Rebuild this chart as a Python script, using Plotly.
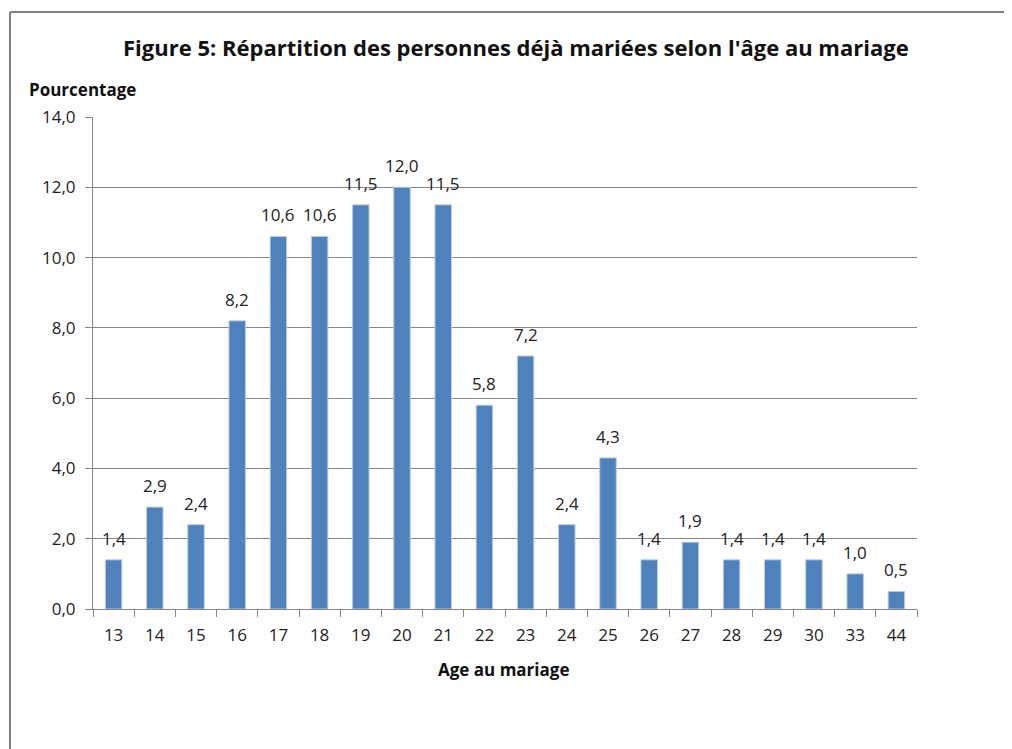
import plotly.graph_objects as go

ages = ["13", "14", "15", "16", "17", "18", "19", "20", "21", "22", "23", "24",
        "25", "26", "27", "28", "29", "30", "33", "44"]
pourcentages = [1.4, 2.9, 2.4, 8.2, 10.6, 10.6, 11.5, 12.0, 11.5, 5.8, 7.2, 2.4,
                4.3, 1.4, 1.9, 1.4, 1.4, 1.4, 1.0, 0.5]
y_ticks = [0, 2, 4, 6, 8, 10, 12, 14]

FONT = "Open Sans"
# page body has an 8px margin; compensate so that pixels match the target
OFF = 8
W, H = 1012, 749
L, R, T, B = 93, 917, 117, 609  # target plot area (page pixels)
l, t = L - OFF, T - OFF
r = W - (R - OFF)
b = H - (B - OFF)
pw, ph = W - l - r, H - t - b
def px(x): return (x - OFF - l) / pw
def py(y): return (H - b - (y - OFF)) / ph

fig = go.Figure(go.Bar(
    x=ages, y=pourcentages,
    marker=dict(color="#4F81BD", line=dict(color="#B9CDE5", width=1)),
    width=0.4,
    hoverinfo="x+y",
))

# data labels: on a category axis, annotation x is the category index
annotations = [
    dict(x=i, y=v, xref="x", yref="y", text=f"{v:.1f}".replace(".", ","),
         showarrow=False, yanchor="bottom", yshift=8,
         font=dict(family=FONT, size=17, color="#222"))
    for i, v in enumerate(pourcentages)
]
annotations += [
    dict(text="<b>Figure 5: Répartition des personnes déjà mariées selon l'âge au mariage</b>",
         x=px(516), y=py(47), xref="paper", yref="paper", showarrow=False,
         xanchor="center", yanchor="middle",
         font=dict(family=FONT, size=22, color="#111")),
    dict(text="<b>Pourcentage</b>", x=px(27), y=py(90), xref="paper", yref="paper",
         showarrow=False, xanchor="left", yanchor="middle",
         font=dict(family=FONT, size=17, color="#111")),
    dict(text="<b>Age au mariage</b>", x=px(503), y=py(669), xref="paper", yref="paper",
         showarrow=False, xanchor="center", yanchor="middle",
         font=dict(family=FONT, size=17, color="#111")),
]

fig.update_layout(
    width=W, height=H,
    margin=dict(l=l, r=r, t=t, b=b),
    paper_bgcolor="white", plot_bgcolor="white",
    separators=", ",
    showlegend=False,
    font=dict(family=FONT, size=17, color="#222"),
    xaxis=dict(
        type="category", tickson="boundaries", ticks="outside", ticklen=7,
        tickcolor="#868686", showline=True, linecolor="#868686", linewidth=1,
        showgrid=False, tickfont=dict(family=FONT, size=17, color="#222"),
        ticklabelstandoff=11, tickangle=0, range=[-0.5, len(ages) - 0.5],
    ),
    yaxis=dict(
        range=[0, 14], tickvals=y_ticks, tickformat=".1f", ticks="outside",
        ticklen=7, tickcolor="#868686", showline=True, linecolor="#868686",
        gridcolor="#868686", gridwidth=1,
        tickfont=dict(family=FONT, size=17, color="#222"),
        zeroline=False, ticklabelstandoff=6,
    ),
    annotations=annotations,
    shapes=[
        dict(type="line", xref="paper", yref="paper", x0=px(10), x1=px(1020), y0=py(12), y1=py(12),
             line=dict(color="#808080", width=2)),
        dict(type="line", xref="paper", yref="paper", x0=px(10), x1=px(10), y0=py(12), y1=py(760),
             line=dict(color="#808080", width=2)),
    ],
)

fig.write_html("out.html")
